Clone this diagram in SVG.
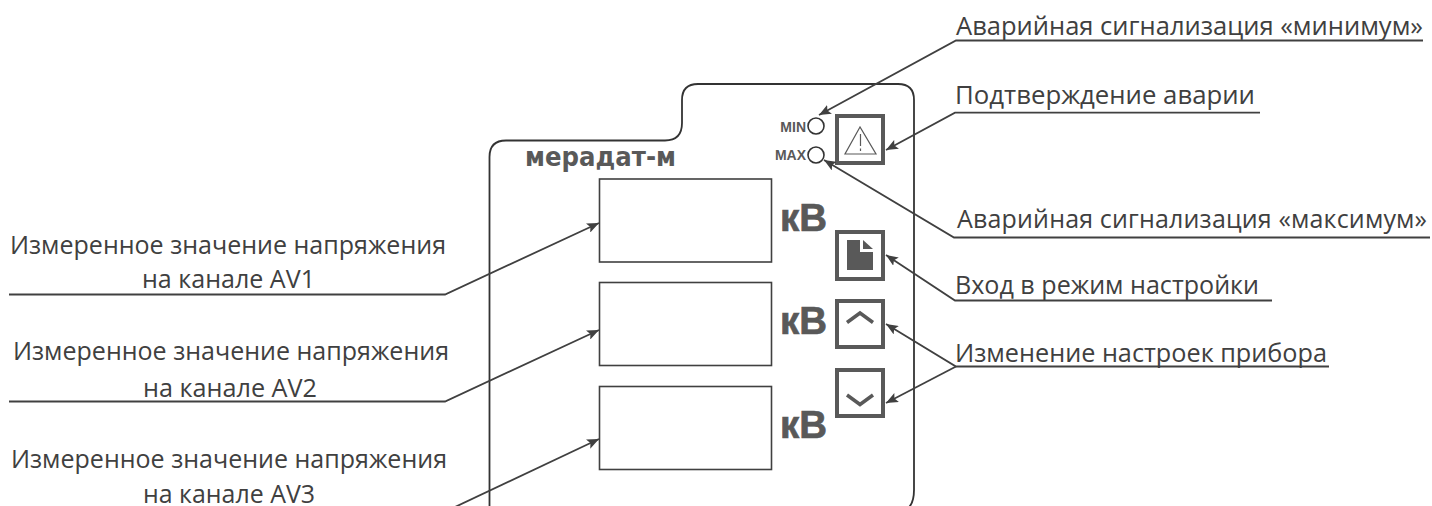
<svg xmlns="http://www.w3.org/2000/svg" width="1432" height="506" viewBox="0 0 1432 506">
<defs>
<marker id="arr" markerUnits="userSpaceOnUse" markerWidth="13" markerHeight="10" refX="12" refY="5" orient="auto"><path d="M0 0L12 5L0 10L2.500 5Z" fill="#404040"/></marker>
</defs>
<style>
text{font-family:"Open Sans","Noto Sans",sans-serif;fill:#404040}
.lbl{font-size:26px}
.lbl2{font-size:25px}
.b{font-family:"Liberation Sans",Arial,sans-serif;font-weight:bold;fill:#595959}
.u{font-size:38px;stroke:#595959;stroke-width:.7}
.t{font-size:14px}
.ln{fill:none;stroke:#404040;stroke-width:1.800}
.ar{marker-end:url(#arr)}
.box{fill:#fff;stroke:#404040;stroke-width:1.600}
.btn{fill:#fff;stroke:#595959;stroke-width:4}
.ic{fill:none;stroke:#595959}
.led{fill:#fff;stroke:#333;stroke-width:1.600}
</style>
<rect width="1432" height="506" fill="#fff"/>
<g id="device"><path d="M489.500 512V157Q489.500 140.500 506 140.500H665Q682 140.500 682 123V100Q682 84 698 84H898Q914 84 914 100V490Q914 506 905 510" fill="#fff" stroke="#333" stroke-width="1.800"/>
<text x="525" y="166" font-size="27" font-weight="bold" style="font-family:'DejaVu Sans',sans-serif;fill:#595959" textLength="151" lengthAdjust="spacingAndGlyphs">мерадат-м</text></g>
<g id="display1"><rect class="box" x="599.500" y="179" width="172" height="83"/></g>
<g id="display2"><rect class="box" x="599.500" y="282.500" width="172" height="83"/></g>
<g id="display3"><rect class="box" x="599.500" y="386.500" width="172" height="83"/></g>
<g id="unit1"><text class="b u" x="780" y="231" textLength="47" lengthAdjust="spacingAndGlyphs">кВ</text></g>
<g id="unit2"><text class="b u" x="780" y="334" textLength="47" lengthAdjust="spacingAndGlyphs">кВ</text></g>
<g id="unit3"><text class="b u" x="780" y="437.500" textLength="47" lengthAdjust="spacingAndGlyphs">кВ</text></g>
<g id="led-min"><text class="b t" x="806" y="131.500" text-anchor="end">MIN</text><circle class="led" cx="816" cy="126" r="8"/></g>
<g id="led-max"><text class="b t" x="806" y="159.500" text-anchor="end">MAX</text><circle class="led" cx="816" cy="155" r="8"/></g>
<g id="btn-alarm"><rect class="btn" x="837" y="116" width="46" height="47"/><path class="ic" stroke-width="1.200" d="M860 127L845 154H876ZM860.500 134V146M860.500 148.500V151"/></g>
<g id="btn-setup"><rect class="btn" x="837" y="232" width="46" height="47"/><path fill="#595959" d="M847 240H860V252H873V270H847Z"/><path fill="#595959" d="M863 240L873 249H863Z"/></g>
<g id="btn-up"><rect class="btn" x="837" y="301" width="46" height="46"/><path class="ic" stroke-width="3.500" d="M847 322.500L860 313L873 322.500"/></g>
<g id="btn-down"><rect class="btn" x="837" y="370" width="46" height="46"/><path class="ic" stroke-width="3.500" d="M847 395L860 404.500L873 395"/></g>
<g id="labels">
<text class="lbl" x="956" y="34.500" textLength="467" lengthAdjust="spacingAndGlyphs">Аварийная сигнализация «минимум»</text>
<text class="lbl" x="955" y="104" textLength="300" lengthAdjust="spacingAndGlyphs">Подтверждение аварии</text>
<text class="lbl2" x="957" y="228" textLength="470">Аварийная сигнализация «максимум»</text>
<text class="lbl" x="955" y="294" textLength="304" lengthAdjust="spacingAndGlyphs">Вход в режим настройки</text>
<text class="lbl" x="955" y="361.500" textLength="372" lengthAdjust="spacingAndGlyphs">Изменение настроек прибора</text>
<text class="lbl" x="10" y="254" textLength="436" lengthAdjust="spacingAndGlyphs">Измеренное значение напряжения</text>
<text class="lbl" x="142" y="288" textLength="173" lengthAdjust="spacingAndGlyphs">на канале AV1</text>
<text class="lbl" x="13" y="360" textLength="436" lengthAdjust="spacingAndGlyphs">Измеренное значение напряжения</text>
<text class="lbl" x="143" y="396.500" textLength="174" lengthAdjust="spacingAndGlyphs">на канале AV2</text>
<text class="lbl" x="11" y="467.500" textLength="436" lengthAdjust="spacingAndGlyphs">Измеренное значение напряжения</text>
<text class="lbl" x="143" y="502.500" textLength="172" lengthAdjust="spacingAndGlyphs">на канале AV3</text>
</g>
<g id="connectors">
<path class="ln ar" d="M1423 40.500H956L819 115"/>
<path class="ln ar" d="M1260 112.700H955L886 150"/>
<path class="ln ar" d="M1430 237.500H954L824 160"/>
<path class="ln ar" d="M1272 300.500H955L886 255"/>
<path class="ln ar" d="M1329 366.500H956L886 324"/>
<path class="ln ar" d="M956 366.500L886 403"/>
<path class="ln ar" d="M9 294.500H445L599 223"/>
<path class="ln ar" d="M9 401.500H445L599 330"/>
<path class="ln ar" d="M455 507L599 439"/>
</g>
</svg>
